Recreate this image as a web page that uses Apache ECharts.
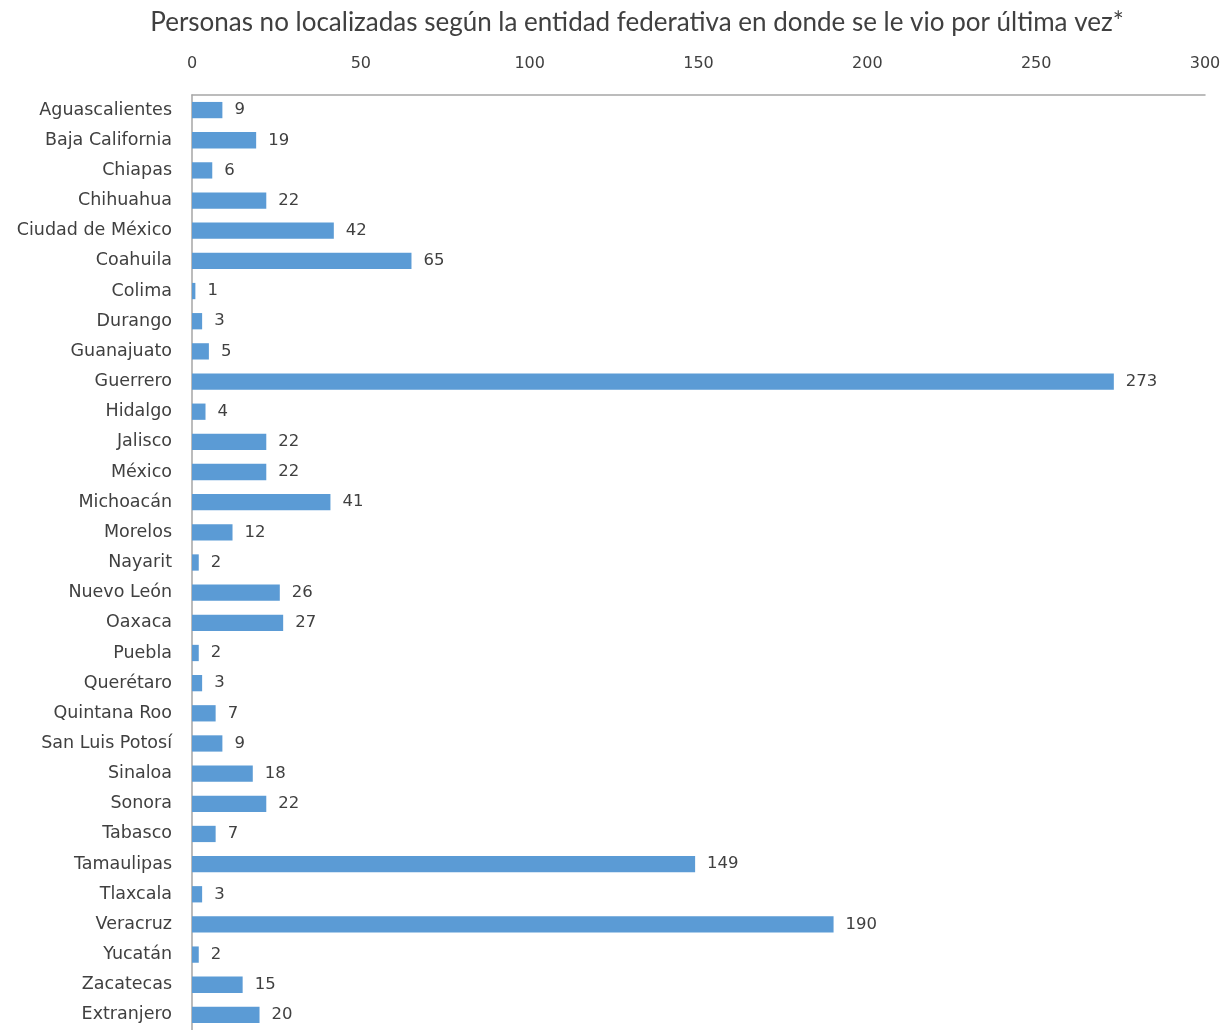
<!DOCTYPE html>
<html><head><meta charset="utf-8">
<script src="https://cdn.jsdelivr.net/npm/echarts@6/dist/echarts.min.js"></script>
<style>html,body{margin:0;padding:0;background:#fff}#c{width:1228px;height:1030px}</style>
</head><body><div id="c"></div>
<script>
const titleText = "Personas no localizadas según la entidad federativa en donde se le vio por última vez*";
const categories = ["Aguascalientes","Baja California","Chiapas","Chihuahua","Ciudad de México","Coahuila","Colima","Durango","Guanajuato","Guerrero","Hidalgo","Jalisco","México","Michoacán","Morelos","Nayarit","Nuevo León","Oaxaca","Puebla","Querétaro","Quintana Roo","San Luis Potosí","Sinaloa","Sonora","Tabasco","Tamaulipas","Tlaxcala","Veracruz","Yucatán","Zacatecas","Extranjero"];
const values = [9,19,6,22,42,65,1,3,5,273,4,22,22,41,12,2,26,27,2,3,7,9,18,22,7,149,3,190,2,15,20];
const axisMin = 0, axisMax = 300, axisStep = 50;

const chart = echarts.init(document.getElementById('c'), null, {renderer:'canvas'});
chart.setOption({
  animation:false,
  backgroundColor:'#ffffff',
  title:{text:titleText,left:632,textAlign:'center',top:5,
    textStyle:{fontFamily:'Lato',fontSize:26,fontWeight:'normal',color:'#404040'}},
  grid:{left:192,top:95,width:1013,height:940,containLabel:false},
  xAxis:{type:'value',position:'top',min:axisMin,max:axisMax,interval:axisStep,
    axisLine:{show:true,lineStyle:{color:'#a6a6a6',width:1.5}},
    axisTick:{show:false},splitLine:{show:false},
    axisLabel:{margin:23,color:'#404040',fontFamily:'DejaVu Sans',fontSize:16}},
  yAxis:{type:'category',data:categories,inverse:true,
    axisLine:{show:true,lineStyle:{color:'#a6a6a6',width:1.5}},
    axisTick:{show:false},
    axisLabel:{margin:20,color:'#404040',fontFamily:'DejaVu Sans',fontSize:17.5}},
  series:[{type:'bar',data:values,barCategoryGap:'46%',
    itemStyle:{color:'#5b9bd5'},
    label:{show:true,position:'right',distance:12,color:'#404040',fontFamily:'DejaVu Sans',fontSize:16.5}}]
});
</script></body></html>
